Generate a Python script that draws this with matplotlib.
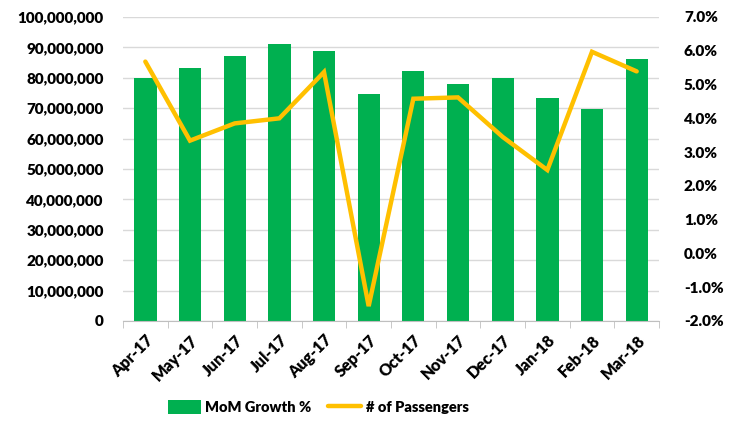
import matplotlib.pyplot as plt
import matplotlib.ticker as mticker
import numpy as np

months = ['Apr-17', 'May-17', 'Jun-17', 'Jul-17', 'Aug-17', 'Sep-17',
          'Oct-17', 'Nov-17', 'Dec-17', 'Jan-18', 'Feb-18', 'Mar-18']
passengers = [79.8e6, 83.2e6, 87.3e6, 91.2e6, 88.7e6, 74.6e6,
              82.3e6, 78.1e6, 79.8e6, 73.4e6, 69.8e6, 86.2e6]
growth = [5.68, 3.34, 3.85, 4.00, 5.37, -1.56,
          4.58, 4.62, 3.45, 2.47, 5.97, 5.39]

plt.rcParams['font.family'] = ['Lato', 'DejaVu Sans']
plt.rcParams['font.weight'] = 'heavy'

fig = plt.figure(figsize=(7.3, 4.34), dpi=100)
ax = fig.add_axes([123 / 730, 1 - 321 / 434, (659 - 123) / 730, (321 - 17) / 434])
ax2 = ax.twinx()

x = np.arange(len(months))
ax.bar(x, passengers, width=0.5, color='#00B050', zorder=2, label='MoM Growth %')
ax2.plot(x, growth, color='#FFC000', lw=3.2, solid_capstyle='round',
         solid_joinstyle='miter', zorder=3, label='# of Passengers')

ax.set_xlim(-0.5, len(months) - 0.5)
ax.set_ylim(0, 100e6)
ax.set_yticks(np.arange(0, 100e6 + 1, 10e6))
ax.yaxis.set_major_formatter(mticker.FuncFormatter(lambda v, p: f'{int(v):,}'))
ax.grid(axis='y', color='#D9D9D9', lw=1, zorder=0)
ax.set_axisbelow(True)

ax2.set_ylim(-2, 7)
ax2.set_yticks(np.arange(-2, 7.01, 1))
ax2.yaxis.set_major_formatter(mticker.FuncFormatter(lambda v, p: f'{v:.1f}%'))

for a in (ax, ax2):
    for s in ['top', 'left', 'right']:
        a.spines[s].set_visible(False)
    a.tick_params(axis='y', length=0, labelsize=11)
ax2.spines['bottom'].set_visible(False)
ax.spines['bottom'].set_color('#BFBFBF')
ax.tick_params(axis='y', pad=14)
ax2.tick_params(axis='y', pad=18)

ax.set_xticks(x)
ax.set_xticklabels(months, rotation=45, ha='right', rotation_mode='anchor', fontsize=11.5)
ax.tick_params(axis='x', which='major', length=0, pad=8)
ax.set_xticks(np.arange(-0.5, len(months), 1), minor=True)
ax.tick_params(axis='x', which='minor', length=5, color='#BFBFBF', direction='out')

h1, l1 = ax.get_legend_handles_labels()
h2, l2 = ax2.get_legend_handles_labels()
fig.legend(h1 + h2, l1 + l2, loc='center', bbox_to_anchor=(318 / 730, 1 - 407 / 434),
           ncol=2, frameon=False, fontsize=10.5, handlelength=2.3, handleheight=1.1,
           columnspacing=1.1, handletextpad=0.3)

fig.savefig('out.png', dpi=100)
